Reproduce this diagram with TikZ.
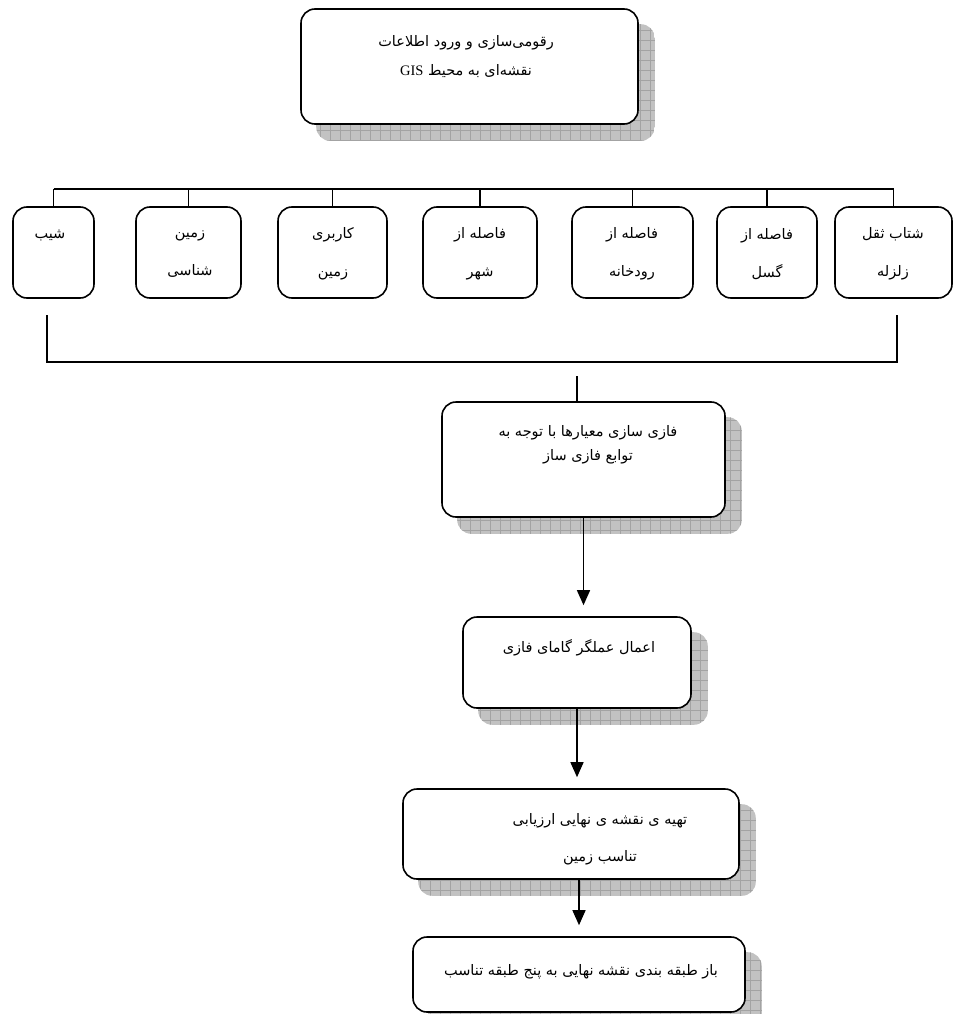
\documentclass[tikz,border=0pt]{standalone}
\usepackage{fontspec}
\setmainfont{Liberation Serif}
\newfontfamily\fa[Script=Arabic]{DejaVu Sans}
\TeXXeTstate=1
\newcommand{\rline}[1]{\beginR #1\endR}
\tikzset{box/.style = {draw, fill = white, line width = 1.6pt, rounded corners = 14pt, inner sep = 0}}
\tikzset{txt/.style = {font = \fa\fontsize{14.5}{24}\selectfont, align = center, inner sep = 0}}
\tikzset{arr/.style = {-{Triangle[width = 13pt, length = 15pt]}, line width = 1.4pt, shorten > = 11pt}}
\newcommand{\dropshadow}[1]{%
  \begin{scope}
    \clip [rounded corners = 14pt] ([shift = {(16,16)}]#1.south west) rectangle ([shift = {(16,16)}]#1.north east);
    \fill [black!24] ([shift = {(16,16)}]#1.south west) rectangle ([shift = {(16,16)}]#1.north east);
    \draw [black!36, line width = 0.35pt, step = 10pt] ([shift = {(16,16)}]#1.south west) grid ([shift = {(16,16)}]#1.north east);
  \end{scope}}
\usetikzlibrary{arrows.meta, backgrounds}

\begin{document}
\begin{tikzpicture}[x = 1pt, y = -1pt, line width = 1.4pt]
    \useasboundingbox (0,0) rectangle (953,1014);
    % top box
    \node [box, minimum width = 337, minimum height = 115] (top) at (469.5,66.5) {};
    \node [txt] (topT) at (466,57) {\rline{رقومی‌سازی و  ورود اطلاعات}\\[5pt] \rline{نقشه‌ای به محیط {\rmfamily\beginL GIS\endL}}};
    % criteria
    \node [box, minimum width = 81, minimum height = 91] (b1) at (53.5,252.5) {};
    \node [box, minimum width = 105, minimum height = 91] (b2) at (188.5,252.5) {};
    \node [box, minimum width = 109, minimum height = 91] (b3) at (332.5,252.5) {};
    \node [box, minimum width = 114, minimum height = 91] (b4) at (480,252.5) {};
    \node [box, minimum width = 121, minimum height = 91] (b5) at (632.5,252.5) {};
    \node [box, minimum width = 100, minimum height = 91] (b6) at (767,252.5) {};
    \node [box, minimum width = 117, minimum height = 91] (b7) at (893.5,252.5) {};
    \node [txt] (b1T) at (50,235) {\rline{شیب}};
    \node [txt] (b2T) at (190,254) {\rline{زمین}\\[14pt] \rline{شناسی}};
    \node [txt] (b3T) at (333,254) {\rline{کاربری}\\[14pt] \rline{زمین}};
    \node [txt] (b4T) at (480,254) {\rline{فاصله از}\\[14pt] \rline{شهر}};
    \node [txt] (b5T) at (632,254) {\rline{فاصله از}\\[14pt] \rline{رودخانه}};
    \node [txt] (b6T) at (767,254) {\rline{فاصله از}\\[14pt] \rline{گسل}};
    \node [txt] (b7T) at (893,254) {\rline{شتاب ثقل}\\[14pt] \rline{زلزله}};
    \coordinate (bus) at (52,189);
    \draw (b1.north |- bus) -- (b7.north |- bus);
    \foreach \b in {b1,b2,b3,b4,b5,b6,b7}
        \draw (\b.north) -- (\b.north |- bus);
    \coordinate (brL) at (47,315);
    \coordinate (brR) at (897,315);
    \draw (brL) -- ++(0,47) -| (brR);
    % process
    \node [box, minimum width = 283, minimum height = 115] (fuzzy) at (583.5,459.5) {};
    \node [txt] (fuzzyT) at (588,445) {\rline{فازی سازی معیارها  با توجه به}\\ \rline{توابع فازی ساز}};
    \coordinate (join) at (577,376);
    \draw (join) -- (join |- fuzzy.north);
    \node [box, minimum width = 228, minimum height = 91] (gamma) at (577,662.5) {};
    \node [txt] (gammaT) at (579,648) {\rline{اعمال عملگر گامای فازی}};
    \node [box, minimum width = 336, minimum height = 90] (final) at (571,834) {};
    \node [txt] (finalT) at (600,839.5) {\rline{تهیه ی نقشه ی نهایی ارزیابی}\\[13pt] \rline{تناسب زمین}};
    \node [box, minimum width = 332, minimum height = 75] (last) at (579,974.5) {};
    \node [txt] (lastT) at (581,972) {\rline{باز طبقه بندی نقشه نهایی به پنج طبقه تناسب}};
    \draw [arr] (fuzzy.south) -- (fuzzy.south |- gamma.north);
    \draw [arr] (gamma.south) -- (gamma.south |- final.north);
    \draw [arr] (last.north |- final.south) -- (last.north);
    \begin{scope}[on background layer]
        \dropshadow{top}
        \dropshadow{fuzzy}
        \dropshadow{gamma}
        \dropshadow{final}
        \dropshadow{last}
    \end{scope}
\end{tikzpicture}
\end{document}
